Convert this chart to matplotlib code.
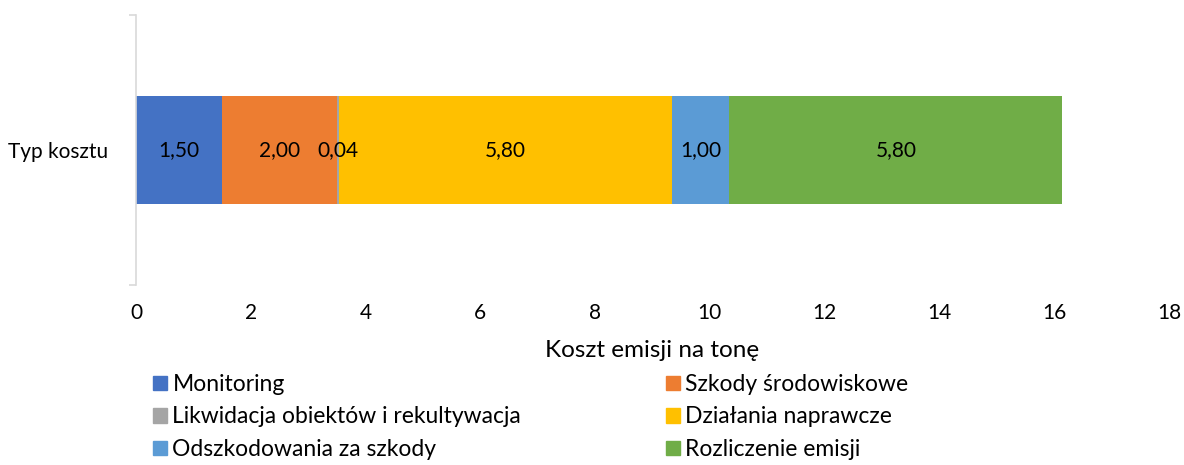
import matplotlib
matplotlib.use("Agg")
import matplotlib.pyplot as plt
from matplotlib.patches import Patch

plt.rcParams['font.family'] = ['Lato', 'DejaVu Sans']

category = "Typ kosztu"
series_names = ["Monitoring", "Szkody środowiskowe",
                "Likwidacja obiektów i rekultywacja", "Działania naprawcze",
                "Odszkodowania za szkody", "Rozliczenie emisji"]
values = [1.50, 2.00, 0.04, 5.80, 1.00, 5.80]
colors = ["#4472C4", "#ED7D31", "#A5A5A5", "#FFC000", "#5B9BD5", "#70AD47"]
xticks = [0, 2, 4, 6, 8, 10, 12, 14, 16, 18]

fig = plt.figure(figsize=(11.84, 4.65), dpi=100)
ax = fig.add_axes([136/1184, 1 - 285/465, 1033/1184, 270/465])

left = 0
for name, v, c in zip(series_names, values, colors):
    ax.barh(0, v, left=left, height=0.4, color=c, label=name)
    ax.text(left + v/2, 0, ("%.2f" % v).replace(".", ","), ha="center", va="center",
            fontsize=15, color="black")
    left += v

ax.set_xlim(0, 18)
ax.set_ylim(-0.5, 0.5)
ax.set_xticks(xticks)
ax.set_xticklabels([str(t) for t in xticks], fontsize=15)
ax.tick_params(axis="x", length=0, pad=13)
ax.set_yticks([0])
ax.set_yticklabels([category], fontsize=15)
ax.tick_params(axis="y", which="major", length=0, pad=20)
ax.set_yticks([-0.5, 0.5], minor=True)
ax.tick_params(axis="y", which="minor", length=5, color="#D9D9D9", width=1.2)
for s in ["top", "right", "bottom"]:
    ax.spines[s].set_visible(False)
ax.spines["left"].set_color("#D9D9D9")
ax.spines["left"].set_linewidth(1.2)
ax.set_xlabel("Koszt emisji na tonę", fontsize=17.5, labelpad=12)

handles = [Patch(color=c) for c in colors]
leg_kw = dict(frameon=False, fontsize=16.5, handlelength=0.6, handleheight=0.6,
              handletextpad=0.25, labelspacing=0.5, borderaxespad=0, borderpad=0)
l1 = fig.legend(handles[0::2], series_names[0::2], loc="upper left",
                bbox_to_anchor=(153/1184, 1 - 374/465), **leg_kw)
l2 = fig.legend(handles[1::2], series_names[1::2], loc="upper left",
                bbox_to_anchor=(666/1184, 1 - 374/465), **leg_kw)

fig.savefig("out.png", dpi=100)
